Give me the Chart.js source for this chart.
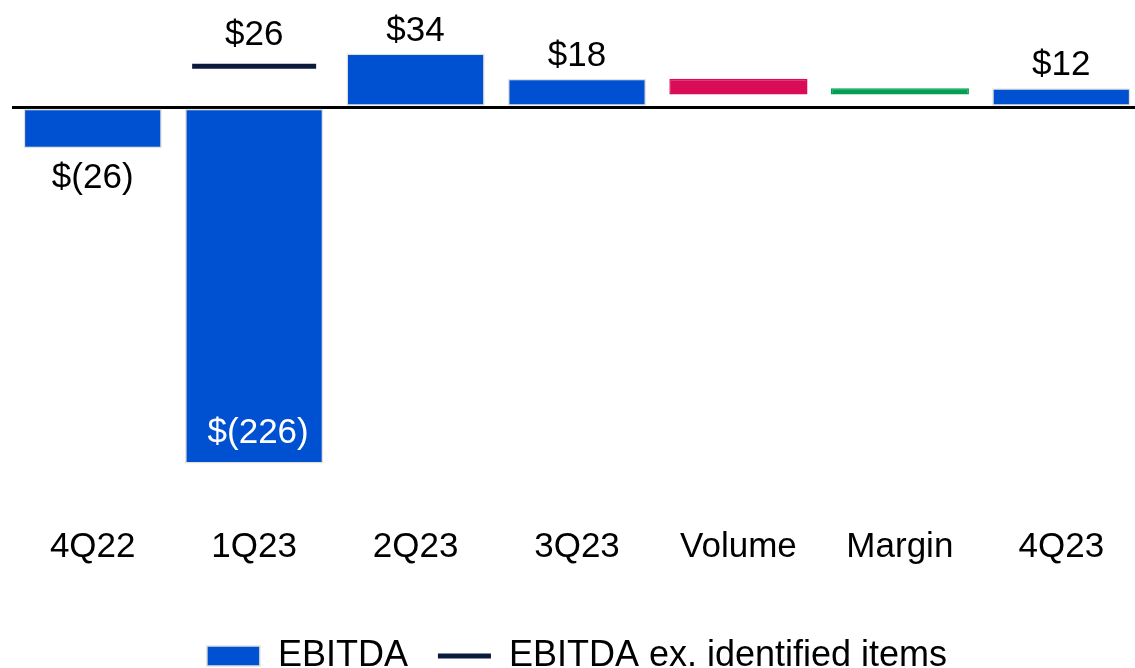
<!DOCTYPE html>
<html>
<head>
<meta charset="utf-8">
<title>EBITDA bridge</title>
<script src="https://cdn.jsdelivr.net/npm/chart.js@4.4.1/dist/chart.umd.min.js"></script>
<style>
  html, body { margin: 0; padding: 0; background: #fff; overflow: hidden; }
  #wrap { position: relative; width: 1142px; height: 684px; }
</style>
</head>
<body>
<div id="wrap"><canvas id="ebitdaChart"></canvas></div>
<script>
// Quarterly EBITDA ($M) with the 3Q23 -> 4Q23 bridge
const categories = ["4Q22", "1Q23", "2Q23", "3Q23", "Volume", "Margin", "4Q23"];
const barFrom = [0, 0, 0, 0, 18, 8, 0];
const barTo = [-26, -226, 34, 18, 8, 12, 12];
const exItems = [null, 26, null, null, null, null, null];

const BLUE = "#0050d2";
const RED = "#da0c58";
const GREEN = "#00a050";
const NAVY = "#0b1a3c";
const FONT = "'Liberation Sans', Arial, sans-serif";

// $(26) style for negatives, $34 for positives
function fmt(v) {
  return v < 0 ? `$(${Math.abs(v)})` : `$${v}`;
}

function barColor(i) {
  if (barFrom[i] === 0) return BLUE;
  return barTo[i] < barFrom[i] ? RED : GREEN;
}

// Value labels on quarter bars and on the ex-items marker
const valueLabels = {
  id: "valueLabels",
  afterDatasetsDraw(chart) {
    const ctx = chart.ctx;
    ctx.save();
    ctx.font = `35px ${FONT}`;
    ctx.textAlign = "center";
    ctx.textBaseline = "alphabetic";

    chart.getDatasetMeta(0).data.forEach((bar, i) => {
      if (barFrom[i] !== 0) return;
      const v = barTo[i];
      if (v >= 0) {
        ctx.fillStyle = "#000";
        ctx.fillText(fmt(v), bar.x, bar.y - 13);
      } else if (bar.y - bar.base > 100) {
        ctx.fillStyle = "#fff";
        ctx.fillText(fmt(v), bar.x + 4, bar.y - 20);
      } else {
        ctx.fillStyle = "#000";
        ctx.fillText(fmt(v), bar.x, bar.y + 40);
      }
    });

    chart.getDatasetMeta(1).data.forEach((pt, i) => {
      if (exItems[i] == null) return;
      ctx.fillStyle = "#000";
      ctx.fillText(fmt(exItems[i]), pt.x, pt.y - 21);
    });
    ctx.restore();
  },
};

function renderChart() {
  const ctx = document.getElementById("ebitdaChart").getContext("2d");
  Chart.defaults.font.family = FONT;
  Chart.defaults.color = "#000";

  new Chart(ctx, {
    type: "bar",
    data: {
      labels: categories,
      datasets: [
        {
          label: "EBITDA",
          data: categories.map((c, i) => [barFrom[i], barTo[i]]),
          backgroundColor: categories.map((c, i) => barColor(i)),
          borderColor: categories.map((c, i) => (barFrom[i] === 0 ? "#e4e2d8" : barColor(i))),
          borderWidth: 1.5,
          borderSkipped: false,
          categoryPercentage: 1,
          barPercentage: 0.856,
        },
        {
          type: "line",
          label: "EBITDA ex. identified items",
          data: exItems,
          showLine: false,
          pointStyle: "line",
          pointRadius: 62,
          pointHoverRadius: 62,
          pointBorderWidth: 5,
          pointBorderColor: NAVY,
          borderColor: NAVY,
          backgroundColor: NAVY,
        },
      ],
    },
    options: {
      responsive: true,
      maintainAspectRatio: false,
      animation: false,
      layout: { autoPadding: false, padding: { left: 12, right: 0, top: 0, bottom: 0 } },
      plugins: {
        tooltip: { enabled: false },
        legend: {
          position: "bottom",
          labels: {
            usePointStyle: true,
            pointStyleWidth: 53,
            boxHeight: 20,
            padding: 30,
            font: { size: 36 },
            color: "#000",
            generateLabels(chart) {
              const items = Chart.defaults.plugins.legend.labels.generateLabels(chart);
              items.forEach((item) => {
                if (item.datasetIndex === 0) {
                  item.pointStyle = "rect";
                  item.fillStyle = BLUE;
                  item.strokeStyle = "#e4e2d8";
                  item.lineWidth = 1.5;
                } else {
                  item.pointStyle = "line";
                  item.strokeStyle = NAVY;
                  item.lineWidth = 5;
                }
              });
              return items.sort((a, b) => a.datasetIndex - b.datasetIndex);
            },
          },
        },
      },
      scales: {
        x: {
          grid: { display: false, drawTicks: false },
          border: { display: false },
          ticks: { padding: 31, font: { size: 35 }, color: "#000", maxRotation: 0 },
          afterFit(scale) {
            scale.height = 113;
          },
        },
        y: {
          min: -246,
          max: 68,
          grid: {
            drawTicks: false,
            color: (c) => (c.tick.value === 0 ? "#000" : "rgba(0,0,0,0)"),
            lineWidth: (c) => (c.tick.value === 0 ? 3 : 0),
          },
          border: { display: false },
          ticks: { display: false, stepSize: 2 },
        },
      },
    },
    plugins: [valueLabels],
  });
}

document.addEventListener("DOMContentLoaded", () => {
  renderChart();
});
</script>
</body>
</html>
